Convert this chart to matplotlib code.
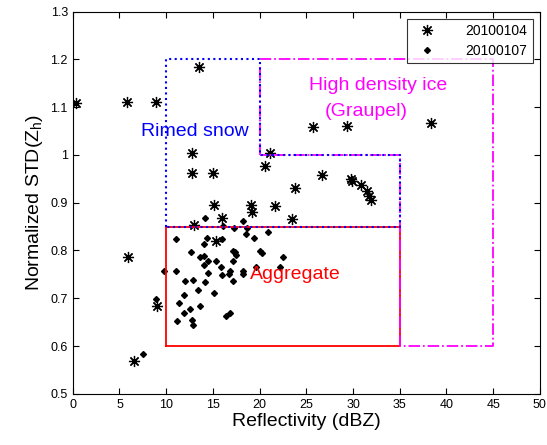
import numpy as np
import matplotlib.pyplot as plt

plt.rcParams['font.family'] = ['Liberation Sans', 'DejaVu Sans']

# 20100104 (asterisks)
z_0104 = [0.35, 5.8, 8.9, 13.5, 12.8, 12.8, 15.0, 20.6, 21.1, 23.8,
          25.7, 29.4, 38.3, 26.7, 29.8, 29.9, 30.8, 31.5, 31.7, 31.9,
          23.5, 15.1, 19.1, 19.2, 21.7, 16.0, 13.0, 15.3, 5.95, 9.0, 6.55]
s_0104 = [1.109, 1.11, 1.11, 1.183, 1.005, 0.962, 0.962, 0.976, 1.005, 0.931,
          1.058, 1.061, 1.067, 0.957, 0.950, 0.945, 0.936, 0.924, 0.915, 0.906,
          0.866, 0.896, 0.896, 0.880, 0.894, 0.869, 0.854, 0.819, 0.786, 0.683, 0.568]

# 20100107 (dots)
z_0107 = [11.1, 11.05, 11.4, 11.2, 11.9, 12.0, 11.9, 12.5, 12.7, 12.9,
          12.8, 12.9, 13.4, 13.6, 13.6, 14.0, 14.0, 14.0, 14.2, 14.2,
          14.4, 14.5, 14.5, 15.1, 15.3, 16.0, 15.9, 16.0, 16.1, 16.4,
          16.8, 16.75, 16.8, 17.2, 17.2, 17.2, 17.4, 17.5, 17.3, 18.2,
          18.2, 18.2, 18.5, 18.7, 19.4, 20.0, 20.3, 19.6, 20.9, 22.2,
          22.5, 9.76, 8.9, 7.5]
s_0107 = [0.825, 0.758, 0.690, 0.652, 0.706, 0.737, 0.669, 0.678, 0.797, 0.739,
          0.655, 0.643, 0.718, 0.683, 0.786, 0.788, 0.813, 0.769, 0.735, 0.868,
          0.827, 0.778, 0.753, 0.711, 0.779, 0.823, 0.765, 0.748, 0.852, 0.662,
          0.669, 0.751, 0.758, 0.779, 0.737, 0.799, 0.796, 0.791, 0.846, 0.861,
          0.751, 0.758, 0.834, 0.846, 0.827, 0.799, 0.795, 0.765, 0.839, 0.765,
          0.786, 0.758, 0.699, 0.584]

# region outlines
aggr_x = [10, 35, 35, 10, 10]
aggr_y = [0.6, 0.6, 0.85, 0.85, 0.6]
rimed_x = [10, 10, 20, 20, 35, 35, 10]
rimed_y = [0.85, 1.2, 1.2, 1.0, 1.0, 0.85, 0.85]
graup_x = [20, 20, 45, 45, 35, 35, 20]
graup_y = [1.0, 1.2, 1.2, 0.6, 0.6, 1.0, 1.0]

fig = plt.figure(figsize=(5.47, 4.45), dpi=100)
ax = fig.add_axes([0.133, 0.115, 0.854, 0.859])

ax.plot(z_0104, s_0104, linestyle='none', marker=(8, 2, 0), markersize=8,
        color='black', markeredgewidth=0.9, label='20100104')
ax.plot(z_0107, s_0107, linestyle='none', marker='D', markersize=3,
        color='black', label='20100107')

ax.plot(aggr_x, aggr_y, color='red', linewidth=1.3)
ax.plot(graup_x, graup_y, color='magenta', linewidth=1.3, linestyle='-.')
ax.plot(rimed_x, rimed_y, color='blue', linewidth=1.5, linestyle=':')

ax.text(13.1, 1.049, 'Rimed snow', color='blue', fontsize=14, ha='center', va='center')
ax.text(32.7, 1.145, 'High density ice', color='magenta', fontsize=14, ha='center', va='center')
ax.text(31.4, 1.090, '(Graupel)', color='magenta', fontsize=14, ha='center', va='center')
ax.text(19.0, 0.749, 'Aggregate', color='red', fontsize=14, ha='left', va='center')

ax.set_xlim(0, 50)
ax.set_ylim(0.5, 1.3)
ax.set_xticks(np.arange(0, 51, 5))
ax.set_yticks(np.arange(0.5, 1.31, 0.1))
ax.set_yticklabels(['0.5', '0.6', '0.7', '0.8', '0.9', '1', '1.1', '1.2', '1.3'])
ax.tick_params(direction='in', top=True, right=True, labelsize=9, length=4)
ax.set_xlabel('Reflectivity (dBZ)', fontsize=14, labelpad=2)
ax.set_ylabel('Normalized STD(Z$_\\mathregular{h}$)', fontsize=14, labelpad=4)

leg = ax.legend(loc='upper right', fontsize=10, fancybox=False, edgecolor='black',
                borderaxespad=0.5, handletextpad=1.8, labelspacing=0.4)
leg.get_frame().set_linewidth(0.8)

fig.savefig('out.png', dpi=100)
